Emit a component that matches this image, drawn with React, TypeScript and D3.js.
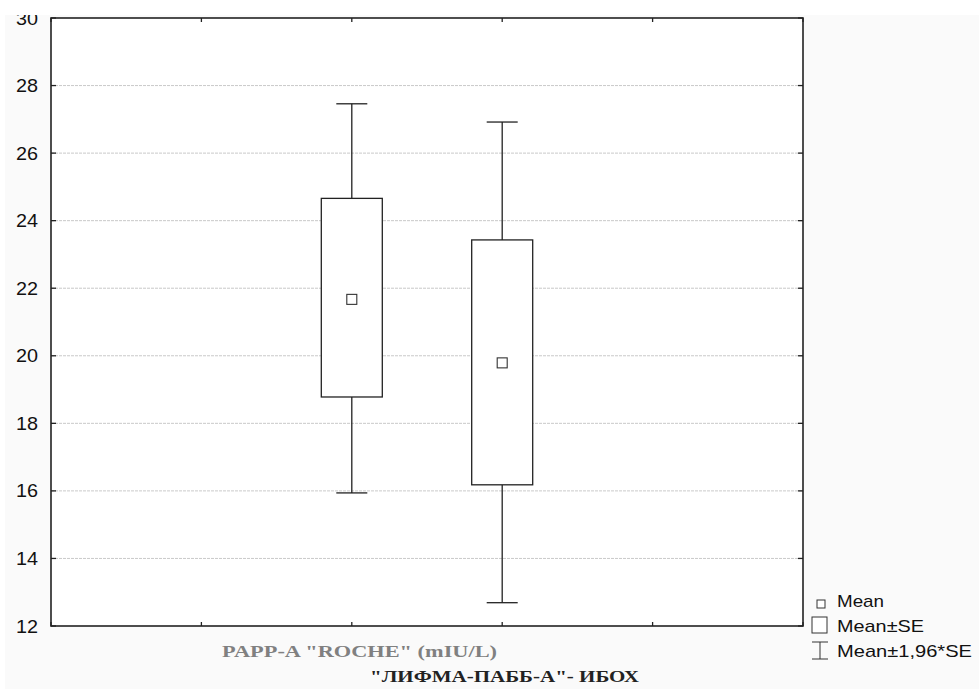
import React from "react";
import * as d3 from "d3";

const groups = ["A", "B"];
const means = [21.67, 19.79];
const seLow = [18.78, 16.18];
const seHigh = [24.66, 23.43];
const ciLow = [15.94, 12.69];
const ciHigh = [27.46, 26.92];
const yTicks = [12, 14, 16, 18, 20, 22, 24, 26, 28, 30];
const xTickIdx = [0, 1, 2, 3, 4, 5];
const groupPos = [2, 3];
const xLabel1 = 'PAPP-A "ROCHE" (mIU/L)';
const xLabel2 = '"ЛИФМА-ПАББ-А"- ИБОХ';
const legendLabels = ["Mean", "Mean±SE", "Mean±1,96*SE"];
const legendWidths = [47, 87, 135];

export default function App() {
  const W = 979, H = 689;
  const L = 51, R = 803, T = 18, B = 626;
  const y = d3.scaleLinear().domain([12, 30]).range([B, T]);
  const x = d3.scaleLinear().domain([0, 5]).range([L, R]);
  const boxW = 61, capW = 31, meanS = 10;
  const stroke = "#222";
  return (
    <svg width={W} height={H} style={{ position: "absolute", left: 0, top: 0 }}>
      <rect x={0} y={0} width={W} height={H} fill="#fafafa" />
      <rect x={0} y={0} width={5} height={H} fill="#ffffff" />
      <rect x={L} y={T} width={R - L} height={B - T} fill="#ffffff" />
      {yTicks.map((t) => (
        <g key={t}>
          {t > 12 && t < 30 && (
            <line x1={L} x2={R} y1={y(t)} y2={y(t)} stroke="#bbb" strokeWidth={0.8} strokeDasharray="3,1" />
          )}
          <line x1={L} x2={L + 5} y1={y(t)} y2={y(t)} stroke={stroke} strokeWidth={1.3} />
          <line x1={R - 5} x2={R} y1={y(t)} y2={y(t)} stroke={stroke} strokeWidth={1.3} />
          <text x={38} y={y(t) + 6.5} textAnchor="end" fontFamily="Liberation Sans, Arial, sans-serif" fontSize={18.5} fill="#111"
            textLength={22} lengthAdjust="spacingAndGlyphs">
            {t}
          </text>
        </g>
      ))}
      <rect x={0} y={0} width={W} height={15} fill="#ffffff" />
      {xTickIdx.map((i) => (
        <g key={i}>
          <line x1={x(i)} x2={x(i)} y1={B} y2={B - 4} stroke={stroke} strokeWidth={1.3} />
          <line x1={x(i)} x2={x(i)} y1={T} y2={T + 4} stroke={stroke} strokeWidth={1.3} />
        </g>
      ))}
      {groups.map((g, i) => {
        const cx = x(groupPos[i]);
        return (
          <g key={g}>
            <line x1={cx} x2={cx} y1={y(ciHigh[i])} y2={y(seHigh[i])} stroke={stroke} strokeWidth={1.3} />
            <line x1={cx} x2={cx} y1={y(seLow[i])} y2={y(ciLow[i])} stroke={stroke} strokeWidth={1.3} />
            <line x1={cx - capW / 2} x2={cx + capW / 2} y1={y(ciHigh[i])} y2={y(ciHigh[i])} stroke={stroke} strokeWidth={1.3} />
            <line x1={cx - capW / 2} x2={cx + capW / 2} y1={y(ciLow[i])} y2={y(ciLow[i])} stroke={stroke} strokeWidth={1.3} />
            <rect x={cx - boxW / 2} y={y(seHigh[i])} width={boxW} height={y(seLow[i]) - y(seHigh[i])} fill="#fff" stroke={stroke} strokeWidth={1.3} />
            <rect x={cx - meanS / 2} y={y(means[i]) - meanS / 2} width={meanS} height={meanS} fill="#fff" stroke="#333" strokeWidth={1.1} />
          </g>
        );
      })}
      <rect x={L} y={T} width={R - L} height={B - T} fill="none" stroke={stroke} strokeWidth={1.6} />
      {/* legend */}
      <rect x={817} y={600} width={8} height={8} fill="#fff" stroke="#333" strokeWidth={1} />
      <rect x={812} y={617} width={15} height={16} fill="#fff" stroke="#333" strokeWidth={1} />
      <line x1={820} x2={820} y1={642} y2={659} stroke="#333" strokeWidth={1} />
      <line x1={812} x2={828} y1={642} y2={642} stroke="#333" strokeWidth={1} />
      <line x1={812} x2={828} y1={659} y2={659} stroke="#333" strokeWidth={1} />
      {legendLabels.map((l, i) => (
        <text key={l} x={837} y={607 + i * 25} fontFamily="Liberation Sans, Arial, sans-serif" fontSize={17} fill="#111"
          textLength={legendWidths[i]} lengthAdjust="spacingAndGlyphs">
          {l}
        </text>
      ))}
      <text x={222} y={657} fontFamily="Liberation Serif, Times New Roman, serif" fontWeight="bold" fontSize={17.5} fill="#808080"
        textLength={275} lengthAdjust="spacingAndGlyphs">
        {xLabel1}
      </text>
      <text x={370} y={682} fontFamily="Liberation Serif, Times New Roman, serif" fontWeight="bold" fontSize={17.5} fill="#222"
        textLength={269} lengthAdjust="spacingAndGlyphs">
        {xLabel2}
      </text>
    </svg>
  );
}
